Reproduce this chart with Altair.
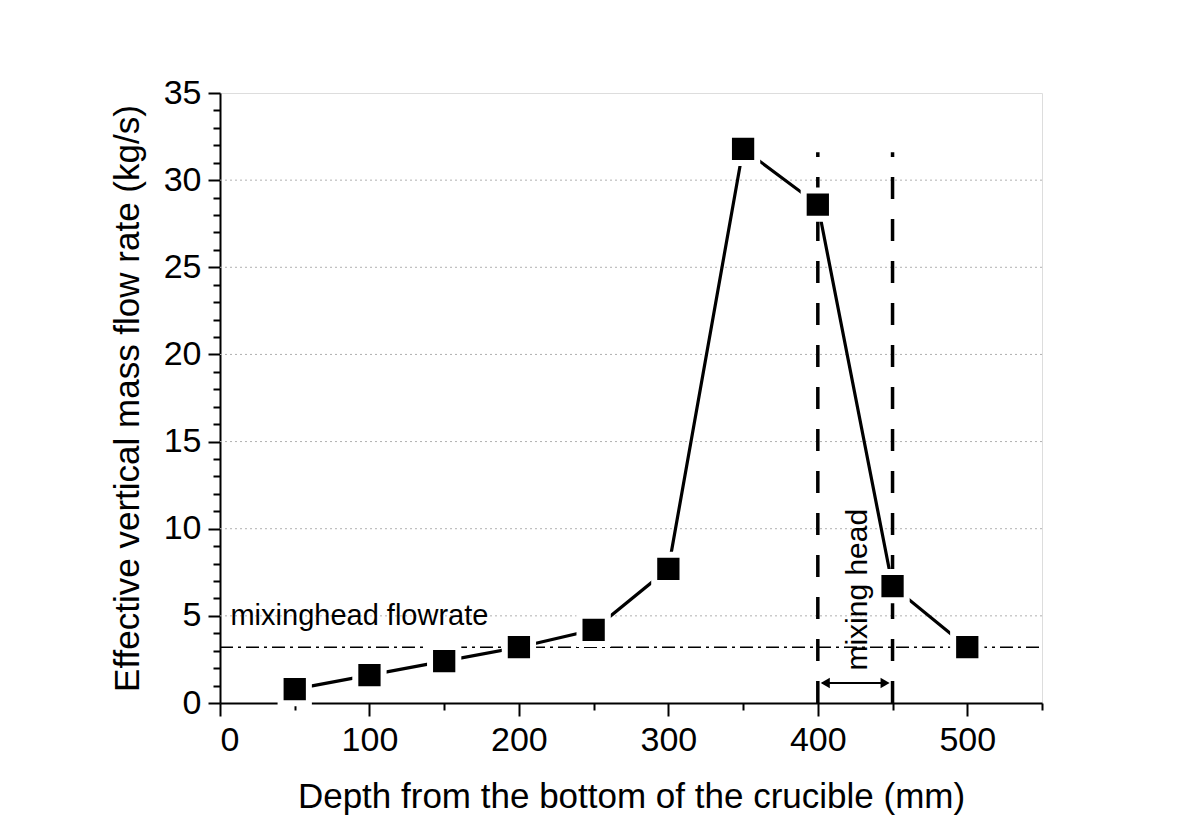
import altair as alt
import pandas as pd

depth = [50, 100, 150, 200, 250, 300, 350, 400, 450, 500]
flow = [0.8, 1.6, 2.4, 3.2, 4.2, 7.7, 31.8, 28.6, 6.7, 3.2]
grid_vals = [5, 10, 15, 20, 25, 30]
mixing_flowrate = 3.2
mixing_head = [400, 450]
x_ticks_all = [0, 50, 100, 150, 200, 250, 300, 350, 400, 450, 500, 550]
y_ticks_all = list(range(0, 36))

FONT = "Liberation Sans"
W, H = 822, 610

df = pd.DataFrame({"depth": depth, "flow": flow})
xs = alt.Scale(domain=[0, 550], nice=False, zero=False)
ys = alt.Scale(domain=[0, 35], nice=False, zero=False)

xax = alt.Axis(values=x_ticks_all, tickCount=100,
               labelExpr="datum.value % 100 == 0 ? format(datum.value, 'd') : ''",
               title="Depth from the bottom of the crucible (mm)", grid=False, labelOverlap=False,
               tickSize={"condition": {"test": "datum.value % 100 === 0", "value": 13}, "value": 7},
               tickWidth=2, domainWidth=2, domainColor="black", tickColor="black",
               labelFont=FONT, labelFontSize=34, labelColor="black", labelPadding=7,
               titleFont=FONT, titleFontSize=35, titleFontWeight="normal", titleColor="black",
               titlePadding=22)
yax = alt.Axis(values=y_ticks_all, tickCount=100,
               labelExpr="datum.value % 5 == 0 ? format(datum.value, 'd') : ''",
               title="Effective vertical mass flow rate (kg/s)", grid=False, labelOverlap=False,
               tickSize={"condition": {"test": "datum.value % 5 === 0", "value": 12}, "value": 7},
               tickWidth=2, domainWidth=2, domainColor="black", tickColor="black",
               labelFont=FONT, labelFontSize=34, labelColor="black", labelPadding=7,
               titleFont=FONT, titleFontSize=35, titleFontWeight="normal", titleColor="black",
               titlePadding=18)

grid = alt.Chart(pd.DataFrame({"g": grid_vals})).mark_rule(
    color="#b0b0b0", strokeDash=[2, 3], strokeWidth=1
).encode(y=alt.Y("g:Q", scale=ys, axis=yax))

hline = alt.Chart(pd.DataFrame({"y": [mixing_flowrate]})).mark_rule(
    color="black", strokeWidth=1.6, strokeDash=[13, 5, 3, 5]
).encode(y=alt.Y("y:Q", scale=ys), x=alt.value(0), x2=alt.value(W))

vlines = alt.Chart(pd.DataFrame({"x": mixing_head, "y": [0, 0], "y2": [31.6, 31.6]})).mark_rule(
    color="black", strokeWidth=3.5, strokeDash=[22, 20]
).encode(x=alt.X("x:Q", scale=xs, axis=xax), y=alt.Y("y:Q", scale=ys), y2="y2:Q")

line = alt.Chart(df).mark_line(color="black", strokeWidth=3.2).encode(
    x=alt.X("depth:Q", scale=xs),
    y=alt.Y("flow:Q", scale=ys),
)
pts = alt.Chart(df).mark_point(
    shape="square", filled=True, fill="black", stroke="white", strokeWidth=6, size=800, opacity=1
).encode(x=alt.X("depth:Q", scale=xs), y=alt.Y("flow:Q", scale=ys))

arrow_y = 1.15
arrow = alt.Chart(pd.DataFrame({"x": [403], "x2": [447], "y": [arrow_y]})).mark_rule(
    color="black", strokeWidth=2
).encode(x=alt.X("x:Q", scale=xs), x2="x2:Q", y=alt.Y("y:Q", scale=ys))
heads = alt.Chart(pd.DataFrame({"x": [405, 445], "y": [arrow_y, arrow_y],
                                "s": ["triangle-left", "triangle-right"]})).mark_point(
    filled=True, color="black", size=110, opacity=1
).encode(x=alt.X("x:Q", scale=xs), y=alt.Y("y:Q", scale=ys),
         shape=alt.Shape("s:N", scale=None, legend=None))

txt1 = alt.Chart(pd.DataFrame({"x": [7], "y": [5.0], "t": ["mixinghead flowrate"]})).mark_text(
    font=FONT, fontSize=29, align="left", baseline="middle", color="black"
).encode(x=alt.X("x:Q", scale=xs), y=alt.Y("y:Q", scale=ys), text="t:N")

txt2 = alt.Chart(pd.DataFrame({"x": [427], "y": [6.5], "t": ["mixing head"]})).mark_text(
    font=FONT, fontSize=30, align="center", baseline="middle", angle=270, color="black"
).encode(x=alt.X("x:Q", scale=xs), y=alt.Y("y:Q", scale=ys), text="t:N")

chart = alt.layer(grid, vlines, hline, line, pts, arrow, heads, txt1, txt2).properties(
    width=W, height=H,
    autosize=alt.AutoSizeParams(type="none"),
    padding={"left": 212, "top": 85, "right": 151, "bottom": 120},
).configure_view(strokeWidth=0).configure(background="white")

chart.save("out.html", embed_options={"renderer": "svg", "actions": False})
